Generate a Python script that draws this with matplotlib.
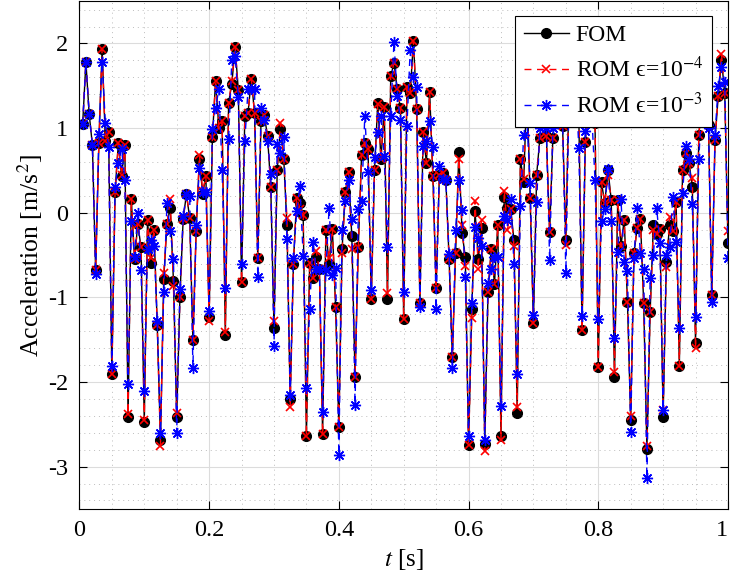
import numpy as np
import matplotlib
matplotlib.use('Agg')
import matplotlib.pyplot as plt
from matplotlib.ticker import MultipleLocator

plt.rcParams['font.family'] = ['Liberation Serif', 'DejaVu Serif']
plt.rcParams['mathtext.fontset'] = 'stix'
plt.rcParams['axes.unicode_minus'] = False

# time samples, dt = 0.005 s
t = np.linspace(0.005, 1.0, 200)

fom = [
    1.05, 1.78, 1.17, 0.80, -0.68, 0.82, 1.94, 0.85, 0.95, -1.91,
    0.25, 0.82, 0.43, 0.80, -2.41, 0.16, -0.55, -0.13, -0.41, -2.47,
    -0.09, -0.59, -0.20, -1.33, -2.69, -0.78, -0.13, 0.06, -0.81, -2.41,
    -0.99, -0.07, 0.22, -0.06, -1.50, -0.21, 0.64, 0.22, 0.43, -1.23,
    0.89, 1.56, 1.00, 1.08, -1.45, 1.30, 1.52, 1.96, 1.45, -0.82,
    1.14, 1.18, 1.58, 1.18, -0.53, 1.08, 1.15, 0.91, 0.31, -1.36,
    0.51, 0.99, 0.64, -0.15, -2.20, -0.60, 0.18, 0.12, -0.03, -2.64,
    -0.59, -0.77, -0.52, -0.67, -2.62, -0.20, -0.61, -0.19, -1.11, -2.53,
    -0.43, 0.24, 0.48, -0.28, -1.94, -0.41, 0.68, 0.82, 0.75, -1.02,
    0.50, 1.30, 0.63, 1.25, -1.02, 1.61, 1.77, 1.46, 1.24, -1.26,
    1.48, 1.41, 2.03, 1.23, -1.07, 0.95, 0.59, 1.43, 0.43, -0.89,
    0.45, 0.47, 0.39, -0.55, -1.70, -0.47, 0.72, -0.24, -0.52, -2.75,
    -1.14, 0.02, -0.55, -0.18, -2.73, -0.94, -0.43, -0.84, -0.15, -2.64,
    0.19, 0.06, 0.04, -0.32, -2.37, 0.63, 0.36, 1.51, 0.17, -1.30,
    0.45, 0.88, 1.55, 0.91, -0.23, 0.88, 1.60, 1.35, 1.02, -0.32,
    1.50, 1.25, 1.70, 1.15, -1.38, 0.84, 1.45, 1.20, 1.06, -1.82,
    0.36, 0.11, 0.51, 0.15, -1.94, 0.15, -0.39, -0.08, -1.05, -2.45,
    -0.48, -0.18, -0.07, -1.07, -2.79, -1.17, -0.14, -0.25, -0.19, -2.41,
    -0.58, -0.15, -0.22, 0.13, -1.81, 0.51, 0.71, 0.59, 0.31, -1.54,
    0.92, 1.30, 1.50, 1.04, -0.97, 0.86, 1.38, 1.80, 1.42, -0.36,
]

rom_1e4 = [
    1.05, 1.78, 1.17, 0.80, -0.68, 0.82, 1.94, 0.85, 0.95, -1.91,
    0.25, 0.82, 0.45, 0.80, -2.38, 0.16, -0.55, -0.13, -0.41, -2.45,
    -0.09, -0.54, -0.20, -1.33, -2.76, -0.71, -0.13, 0.16, -0.87, -2.37,
    -0.99, -0.07, 0.22, -0.06, -1.50, -0.21, 0.68, 0.26, 0.43, -1.28,
    0.89, 1.56, 1.00, 1.08, -1.41, 1.30, 1.56, 1.96, 1.45, -0.82,
    1.14, 1.18, 1.58, 1.18, -0.53, 1.08, 1.15, 0.91, 0.31, -1.28,
    0.51, 1.06, 0.64, -0.06, -2.29, -0.60, 0.18, 0.05, -0.03, -2.64,
    -0.59, -0.77, -0.45, -0.67, -2.62, -0.20, -0.54, -0.19, -1.11, -2.53,
    -0.47, 0.24, 0.48, -0.43, -1.94, -0.41, 0.68, 0.82, 0.75, -1.02,
    0.50, 1.28, 0.63, 1.25, -0.95, 1.61, 1.77, 1.46, 1.24, -1.26,
    1.48, 1.41, 2.03, 1.23, -1.07, 0.95, 0.59, 1.43, 0.43, -0.89,
    0.45, 0.47, 0.39, -0.55, -1.70, -0.47, 0.64, -0.15, -0.63, -2.75,
    -1.24, 0.14, -0.66, -0.08, -2.82, -0.94, -0.43, -0.84, -0.15, -2.68,
    0.26, -0.20, 0.04, -0.39, -2.29, 0.63, 0.40, 1.51, 0.17, -1.30,
    0.45, 0.88, 1.55, 0.91, -0.23, 0.88, 1.60, 1.35, 1.02, -0.38,
    1.50, 1.25, 1.70, 1.15, -1.38, 0.84, 1.45, 1.20, 1.06, -1.82,
    0.36, 0.11, 0.45, 0.15, -1.88, 0.15, -0.39, -0.08, -1.05, -2.40,
    -0.48, -0.18, -0.07, -1.07, -2.76, -1.17, -0.20, -0.25, -0.19, -2.33,
    -0.64, -0.05, -0.22, 0.13, -1.81, 0.51, 0.71, 0.59, 0.41, -1.60,
    0.92, 1.30, 1.50, 1.04, -0.97, 0.86, 1.38, 1.88, 1.42, -0.22,
]

rom_1e3 = [
    1.05, 1.78, 1.17, 0.80, -0.72, 0.93, 1.78, 1.06, 0.78, -1.81,
    0.30, 0.59, 0.75, 0.39, -2.02, -0.10, -0.52, 0.00, -0.68, -2.11,
    -0.43, -0.32, -0.39, -1.28, -2.60, -0.94, 0.11, -0.21, -0.55, -2.60,
    -0.90, -0.04, 0.22, 0.20, -1.83, -0.15, 0.53, 0.24, 0.24, -1.16,
    0.99, 1.24, 1.46, 0.51, -0.89, 0.87, 1.80, 1.85, 1.37, -0.60,
    0.85, 1.46, 1.46, 1.46, -0.76, 1.24, 1.10, 0.85, 0.46, -1.58,
    0.81, 0.71, 0.89, -0.31, -2.15, -0.54, 0.02, 0.32, -0.51, -2.07,
    -1.14, -0.35, -0.67, -0.67, -2.35, -0.68, 0.06, -0.73, -0.65, -2.86,
    -0.20, 0.14, 0.39, -0.07, -2.27, 0.05, 0.14, 1.14, 0.48, -0.91,
    0.66, 0.95, 1.14, 0.67, -0.41, 1.14, 2.02, 1.38, 1.10, -0.94,
    1.02, 1.92, 1.60, 1.48, -1.11, 0.79, 0.85, 1.08, 0.78, -1.14,
    0.55, 0.40, 0.39, -0.49, -1.83, -0.20, 0.39, 0.03, -0.76, -2.64,
    -1.07, -0.17, -0.30, -0.39, -2.69, -0.83, -0.66, -0.52, -0.52, -2.28,
    -0.04, -0.08, 0.16, -0.60, -1.91, 0.08, 0.92, 1.08, 0.35, -1.21,
    0.13, 1.00, 1.30, 1.00, -0.56, 1.00, 1.50, 1.20, 1.10, -0.71,
    1.40, 1.30, 1.60, 0.77, -1.22, 0.97, 1.50, 1.15, 0.39, -1.25,
    -0.10, 0.05, 0.52, -0.10, -1.48, -0.46, 0.16, -0.58, -0.69, -2.59,
    -0.54, 0.06, -0.48, -0.67, -3.14, -0.77, -0.50, 0.06, -0.36, -2.33,
    -0.50, -0.40, 0.19, -0.34, -1.36, 0.23, 0.79, 0.63, 0.10, -1.23,
    0.63, 1.35, 1.50, 1.00, -1.05, 0.92, 1.50, 1.72, 1.55, -0.54,
]

xticks = [0, 0.2, 0.4, 0.6, 0.8, 1]
xtick_labels = ['0', '0.2', '0.4', '0.6', '0.8', '1']
yticks = [-3, -2, -1, 0, 1, 2]

fig = plt.figure(figsize=(7.32, 5.87), dpi=100)
ax = fig.add_axes([0.1085, 0.133, 0.886, 0.865])

ax.plot(t, fom, '-', color='k', lw=1.0, marker='o', ms=7,
        mfc='k', mec='k', label='FOM')
ax.plot(t, rom_1e4, color='r', lw=1.0, dashes=(5, 4), marker='x', ms=6,
        mew=1.2, label='ROM \u03f5=10$^{-4}$')
ax.plot(t, rom_1e3, color='b', lw=1.0, dashes=(5, 4), dash_capstyle='butt',
        marker=(8, 2, 0), ms=8, mew=1.0, label='ROM \u03f5=10$^{-3}$')

ax.set_xlim(0, 1)
ax.set_ylim(-3.5, 2.5)
ax.set_xticks(xticks)
ax.set_xticklabels(xtick_labels)
ax.set_yticks(yticks)
ax.xaxis.set_minor_locator(MultipleLocator(0.05))
ax.yaxis.set_minor_locator(MultipleLocator(0.2))

ax.grid(True, which='major', color='#dcdcdc', lw=0.8, ls='-')
ax.grid(True, which='minor', color='#bdbdbd', lw=0.7, ls=(0, (1, 4)))
ax.set_axisbelow(True)

ax.tick_params(which='both', direction='in', top=True, right=True,
               labelsize=17.5)
ax.tick_params(which='major', length=6, width=0.8, pad=8)
ax.tick_params(which='minor', length=0)
for s in ax.spines.values():
    s.set_linewidth(0.8)

# keep the last x tick label inside the figure
ax.get_xticklabels()[-1].set_horizontalalignment('right')

ax.set_xlabel(r'$t$ [s]', fontsize=18, labelpad=4)
ax.set_ylabel(r'Acceleration [m/s$^2$]', fontsize=18.5, labelpad=2)

leg = ax.legend(loc='upper right', bbox_to_anchor=(0.975, 0.97),
                borderaxespad=0, fontsize=17, numpoints=1, handlelength=1.9,
                fancybox=False, framealpha=1, edgecolor='k',
                labelspacing=0.45, borderpad=0.35, handletextpad=0.3)
leg.get_frame().set_linewidth(0.8)

fig.savefig('out.png', dpi=100)
